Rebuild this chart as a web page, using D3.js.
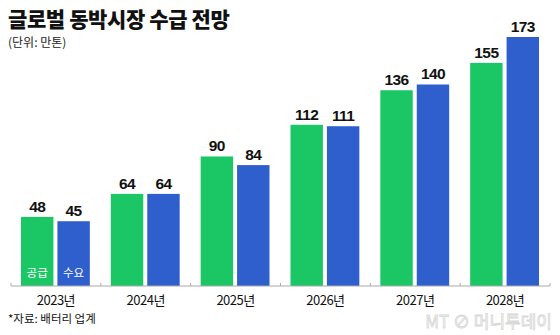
<!DOCTYPE html>
<html><head><meta charset="utf-8">
<script src="https://cdn.jsdelivr.net/npm/d3@7"></script>
<style>body{margin:0;background:#fff}svg{display:block}</style>
</head><body>
<script>
const years = ["2023년","2024년","2025년","2026년","2027년","2028년"];
const supply = [48,64,90,112,136,155];
const demand = [45,64,84,111,140,173];
const seriesNames = ["공급","수요"];
const colors = ["#1bc664","#2f5ecd"];

const W=560,H=335;
const svg=d3.select("body").append("svg").attr("width",W).attr("height",H);
const font="'Noto Sans CJK KR','Noto Sans',sans-serif";

svg.append("text").attr("x",8).attr("y",27).attr("font-family",font).attr("font-weight",900)
  .attr("font-size",21).attr("fill","#111").attr("letter-spacing",-0.4).text("글로벌 동박시장 수급 전망");
svg.append("text").attr("x",8).attr("y",47).attr("font-family",font)
  .attr("font-size",12).attr("fill","#222").text("(단위: 만톤)");

const x=d3.scaleBand().domain(years).range([11,550]).paddingInner(0).paddingOuter(0);
const x1=d3.scaleBand().domain(seriesNames).range([10,x.bandwidth()-11]).paddingInner(0.11);
const y=d3.scaleLinear().domain([0,173]).range([286,37]);

const g=svg.append("g").selectAll("g").data(years).join("g")
  .attr("transform",d=>`translate(${x(d)},0)`);
g.each(function(yr,i){
  const vals=[supply[i],demand[i]];
  const gg=d3.select(this);
  vals.forEach((v,j)=>{
    gg.append("rect").attr("x",x1(seriesNames[j])).attr("width",x1.bandwidth())
      .attr("y",y(v)).attr("height",y(0)-y(v)).attr("fill",colors[j]);
    gg.append("text").attr("x",x1(seriesNames[j])+x1.bandwidth()/2).attr("y",y(v)-5)
      .attr("text-anchor","middle").attr("font-family","'Liberation Sans',Arial,sans-serif")
      .attr("font-weight",700).attr("font-size",15.5).attr("letter-spacing",-0.6).attr("fill","#111").text(v);
    if(i===0){
      gg.append("text").attr("x",x1(seriesNames[j])+x1.bandwidth()/2).attr("y",277)
        .attr("text-anchor","middle").attr("font-family",font).attr("font-size",11.5)
        .attr("fill","#fff").text(seriesNames[j]);
    }
  });
});

// axis
const ax=svg.append("g").attr("transform",`translate(0,${y(0)})`);
ax.append("line").attr("x1",x.range()[0]).attr("x2",x.range()[1]).attr("stroke","#aaa").attr("stroke-width",1);
const edges=years.map(d=>x(d)).concat([x.range()[1]]);
ax.selectAll("line.t").data(edges).join("line").attr("class","t")
  .attr("x1",d=>d).attr("x2",d=>d).attr("y1",-3).attr("y2",0).attr("stroke","#aaa");
ax.selectAll("text").data(years).join("text")
  .attr("x",d=>x(d)+x.bandwidth()/2).attr("y",19).attr("text-anchor","middle")
  .attr("font-family",font).attr("font-size",13).attr("letter-spacing",-0.5).attr("fill","#111").text(d=>d);

svg.append("text").attr("x",8).attr("y",323).attr("font-family",font)
  .attr("font-size",11.5).attr("fill","#111").text("*자료: 배터리 업계");

// watermark
svg.append("text").attr("x",552).attr("y",328).attr("text-anchor","end").attr("font-family",font)
  .attr("font-size",17).attr("fill","none").attr("stroke","#ccc").attr("stroke-width",0.8)
  .attr("opacity",0.8).text("MT ⊘ 머니투데이");
</script>
</body></html>
